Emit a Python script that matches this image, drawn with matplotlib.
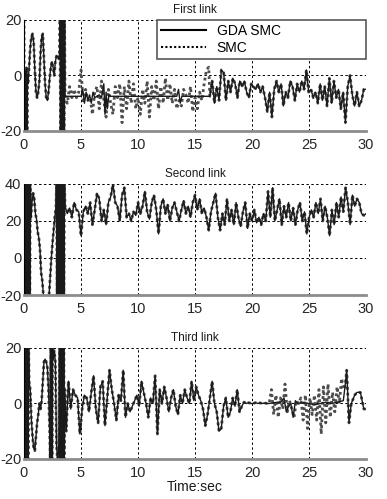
import numpy as np
import matplotlib.pyplot as plt

plt.rcParams['font.family'] = ['Liberation Sans', 'DejaVu Sans']
plt.rcParams['axes.unicode_minus'] = False

titles = ['First link', 'Second link', 'Third link']
series_names = ['GDA SMC', 'SMC']
ylims = [(-20, 20), (-20, 40), (-20, 20)]
yticks = [[-20, 0, 20], [-20, 0, 20, 40], [-20, 0, 20]]
xticks = [0, 5, 10, 15, 20, 25, 30]

# ---------------- first link ----------------
l1_chat_a = [20, -20, 2, -20, 1, -20, 3, -20, 0, -3]
l1_swing = [3, 10, 14, 15, 12, 2, -6, -8, -6, -2, 8, 14, 15, 6, -3, -8, -9, -6, -1, 3,
            5, 3, 0, 5, 7, 7, 6]
l1_chat_b = [8, 20, -20, 20, -20, 20, -20, 20, -20, 20, -20, 20, -7.5]
l1_gda_t = [3.7, 5.0, 5.15, 5.3, 5.45, 5.6, 5.75, 5.9, 6.05, 6.2, 6.4, 6.6, 6.8, 7.0, 7.1,
            7.2, 7.3, 7.45, 7.6, 13.4, 13.55, 13.7, 13.85, 16.3]
l1_gda_mid = [-7.5, -7.5, -5, -10, -6, -9, -7, -10, -6, -8, -7.5, -7, -8, -3, -14, -6, -12,
              -7, -7.5, -7.5, -5, -10, -7.5, -7.5]
l1_smc_mid = [-10, -4, -8, -5, -8, -6, 2, -10, -5, -9,
              -8, -14, -6, -4, -12, -2, -9, -15, -5, -10,
              -14, -4, -8, -3, -17, -4, -12, -2, -10, -3,
              -12, -8, -14, -5, -10, -2, -15, -4, -9, -2,
              -12, -4, -10, -1, -9, -3, -10, -5, -12, -9,
              -11, -5, -7, -10, -4, -13, -8, -12, -6, -9,
              -3, 2, 3]
l1_tail = [-7.5, -2, -10, -4, -9, 2, 1, -9, -2, -6,
           -1, -3, -8, -2, -4, -2, -6, -8, -3, -4,
           -5, -3, -6, -4, -8, -13, -6, -15, -5, -2,
           -6, -3, -11, -6, -8, -2, -4, -9, -3, -6,
           -2, -5, 2, -6, -5, -8, -6, -10, -3, -9,
           -4, -11, -1, -10, -2, -8, -5, -12, -6, -17,
           -4, 0, -7, -11, -6, -11, -9, -5, -5]

# ---------------- second link ----------------
l2_chat_a = [40, -20, 40, -20, 40, -20, 40, -20, 40, -20, 40, -20, 40, 22]
l2_swing = [30, 35, 32, 24, 21, 14, 11, 5, -8, -12, -20, -24, -26, -26, -24, -20, -10, 0,
            8, 15, 22, 27]
l2_chat_b = [40, -20, 40, -20, 40, -20, 40, -20, 40, -20, 40, -20, 40, -20, 40, 28]
l2_tail = [28, 24,
           27, 22, 30, 26, 25,  12, 25, 28, 24, 30,  18, 26, 35, 32, 20,
           26, 18, 30, 33, 40,  30, 28, 20, 34, 38,  22, 24, 20, 25, 23,
           30, 24, 28, 36, 25,  21, 30, 34, 26, 13,  28, 32, 24, 29, 20,
           27, 30, 25, 20, 26,  31, 24, 28, 22, 30,  34, 26, 32, 24, 27,
           22, 15, 25, 30, 35,  22, 15, 24, 18, 32,  20, 26, 18, 30, 22,
           17, 25, 30, 16, 24,  20, 26, 19, 22, 18,  24, 20, 36, 22, 38,
           20, 26, 32, 18, 28,  22, 30, 20, 27, 18,  26, 30, 20, 25, 13,
           22, 26, 22, 30, 24,  32, 20, 28, 22, 12,  26, 18, 30, 22, 33,
           25, 38, 30, 18, 34,  28, 32, 30, 24, 23,
           24]

# ---------------- third link ----------------
l3_chat_a = [20, -20, 20, -20, 20, -20, 20, -20, 20, -20, 20, 8]
l3_swing = [5, -6, -12, -16, -17, -12, -7, -4, 0, -2, 1, 8, 15, 16, 15, 13, 5, -10]
l3_chat_b = [-20, 20, -20, 20, -20, 20, 16]
l3_drop_t = [2.65, 2.75, 2.85, 2.95, 3.05]
l3_drop = [19, 15, -15, -21, -16]
l3_chat_c = [20, -20, 20, -20, 20, -20, 20, -20, 20, -20, 5]
l3_mid = [-10, 8, -2, 5, 3,  2, -11, -2, 3, 2,  -3, 4, 10, -2, -7,
          6, 8, -8, 2, 12,  5, 0, -6, 3, 1,  12, -5, 0, -3, -1,
          1, 3, -1, 8, 4,  0, -5, 2, 0, 10,  -11, 5, 0, 6, 2,
          -3, 2, 5, -1, -4,  3, 0, 5, 2, 0,  8, 1, 6, 3, 1,
          -2, -8, -4, 2, 8,  0, -3, -10, -9, -1,  2, -5, -3, 2, -1,
          5, -3, -1, 0.5, 0,  0.3, 0, 0, 0.3, 0,  0.2, 0, 0.2, 0]
l3_gda_t = [21.5, 22.0, 22.5, 22.8, 23.0, 23.2, 23.4, 23.6, 23.8, 24.0, 24.5, 25.0, 25.5,
            26.0, 26.5, 27.0, 27.5, 28.0, 28.15, 28.3, 28.5, 28.7, 29.0, 29.2, 29.5, 29.8,
            30.0]
l3_gda_tail = [0, 0.3, 0.5, 2, -3, -1, 0, -5, 1, 0, 0.3, 0, -0.5, 0, 0.5, 0, 0.5, 1, 6, 12,
               -7, 0, 3, 4, 4, -2, -2]
l3_smc_tail = [0, 5, -4, 3, -5, 2, -2, 7, -3, 1, -2, -5, 1, 0, 2, -6, 3, -9, 2, -4,
               3, -6, 5, -11, 6, -7, 7, -5, 4, -3, 6, 0, 9, 5]


def seg(t0, t1, vals):
    return np.linspace(t0, t1, len(vals)), np.asarray(vals, dtype=float)


def join(*parts):
    return (np.concatenate([p[0] for p in parts]),
            np.concatenate([p[1] for p in parts]))


# link 1
head1 = [seg(0, 0.35, l1_chat_a), seg(0.45, 3.05, l1_swing), seg(3.12, 3.6, l1_chat_b)]
tail1 = seg(16.3, 30, l1_tail)
gda1 = join(*head1, (np.array(l1_gda_t), np.array(l1_gda_mid, float)), tail1)
smc1 = join(*head1, seg(3.8, 16.2, l1_smc_mid), tail1)

# link 2
all2 = join(seg(0, 0.6, l2_chat_a), seg(0.7, 2.8, l2_swing), seg(2.85, 3.6, l2_chat_b),
            seg(3.6, 30, l2_tail))
gda2 = all2
smc2 = all2

# link 3
head3 = [seg(0, 0.45, l3_chat_a), seg(0.55, 2.25, l3_swing), seg(2.3, 2.55, l3_chat_b),
         (np.array(l3_drop_t), np.array(l3_drop, float)), seg(3.12, 3.58, l3_chat_c),
         seg(3.7, 21.3, l3_mid)]
gt = np.array(l3_gda_t)
gv = np.array(l3_gda_tail, float)
gda3 = join(*head3, (gt, gv))
late = gt >= 28.15
smc3 = join(*head3, seg(21.5, 28.05, l3_smc_tail), (gt[late], gv[late]))

data = [(gda1, smc1), (gda2, smc2), (gda3, smc3)]

fig = plt.figure(figsize=(3.87, 4.99), dpi=100)
bottoms = [0.7375, 0.4088, 0.0802]

for i in range(3):
    ax = fig.add_axes([0.062, bottoms[i], 0.884, 0.2225])
    (tg, vg), (ts, vs) = data[i]
    ls, = ax.plot(ts, vs, color='0.3', linestyle=(0, (1, 1.1)), linewidth=2.0,
                  label=series_names[1])
    lg, = ax.plot(tg, vg, color='0.1', linewidth=1.0, label=series_names[0])
    ax.set_xlim(0, 30)
    ax.set_ylim(*ylims[i])
    ax.set_xticks(xticks)
    ax.set_yticks(yticks[i])
    ax.grid(True, color='k', linestyle=(0, (2.5, 2.5)), linewidth=0.7)
    ax.set_axisbelow(True)
    for s in ['top', 'right']:
        ax.spines[s].set_visible(False)
    ax.spines['bottom'].set_color('0.55')
    ax.spines['bottom'].set_linewidth(2)
    ax.spines['left'].set_color('k')
    ax.spines['left'].set_linewidth(0.8)
    ax.tick_params(length=0, labelsize=10.5, labelcolor='0.15')
    ax.tick_params(axis='x', pad=5)
    ax.tick_params(axis='y', pad=2)
    ax.set_title(titles[i], fontsize=8.5, pad=5, color='0.1')
    if i == 0:
        leg = ax.legend([lg, ls], series_names, loc='upper left',
                        bbox_to_anchor=(0.389, 1.0, 0.611, 0.0), mode='expand',
                        borderaxespad=0, fontsize=10, handlelength=3.2,
                        fancybox=False, framealpha=1, edgecolor='0.35',
                        labelspacing=0.2, borderpad=0.3)
        leg.get_frame().set_linewidth(1.2)
        for h in leg.legend_handles:
            h.set_color('k')
            h.set_linewidth(1.5)
    if i == 2:
        ax.set_xlabel('Time:sec', fontsize=10, labelpad=0, color='0.1')

fig.savefig('out.png', dpi=100)
